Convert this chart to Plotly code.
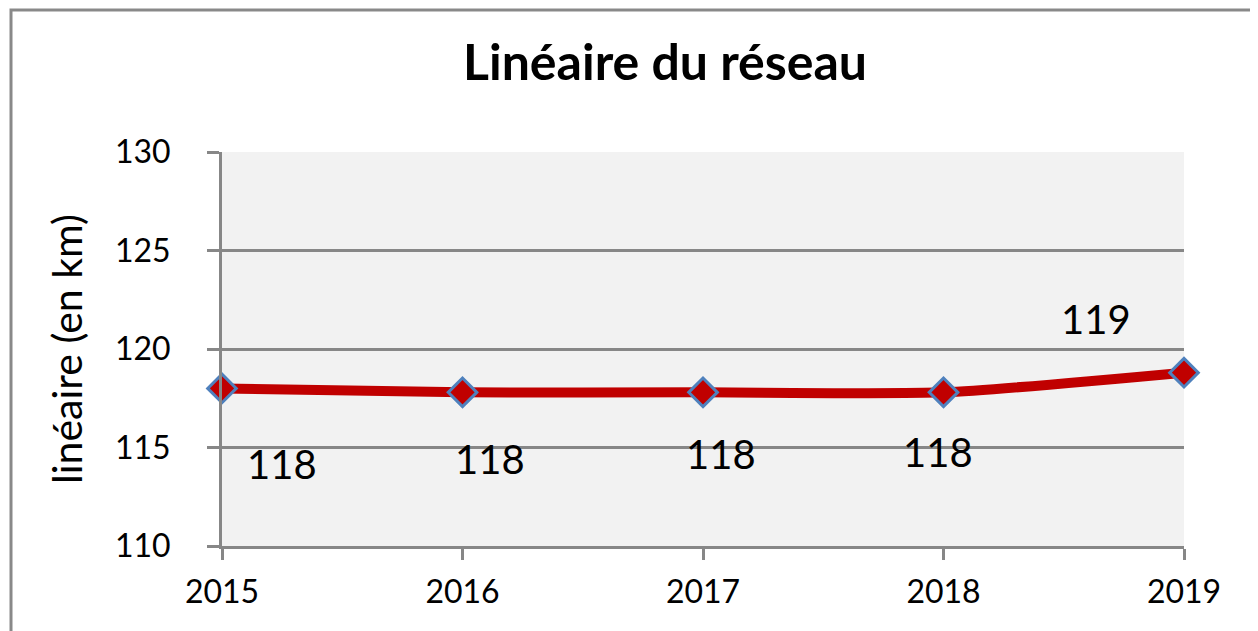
import plotly.graph_objects as go

years = [2015, 2016, 2017, 2018, 2019]
values = [118.0, 117.8, 117.8, 117.8, 118.8]
labels = [f"{round(v):d}" for v in values]
# label offsets in pixels (dx, dy up)
label_dx = [60, 27, 18, -6, -88]
label_dy = [-76, -67, -62, -60, 54]

FONT = "Lato"

fig = go.Figure()
fig.add_trace(go.Scatter(
    x=years, y=values, mode="lines+markers",
    line=dict(color="#C00000", width=10, shape="spline", smoothing=0.6),
    marker=dict(symbol="diamond", size=22, color="#C00000",
                line=dict(color="#4F81BD", width=3)),
    cliponaxis=False, showlegend=False,
))

for x, y, t, dx, dy in zip(years, values, labels, label_dx, label_dy):
    fig.add_annotation(x=x, y=y, text=t, showarrow=False, xshift=dx, yshift=dy,
                       font=dict(family=FONT, size=40, color="black"))

OFF = 8  # body margin of the html page
L, R, T, B = 222 - OFF, 74, 152 - OFF, 85
W, H = 1258 - OFF, 631 - OFF
pw, ph = W - L - R, H - T - B
fig.add_shape(type="rect", xref="paper", yref="paper",
              x0=(11 - OFF - L) / pw, x1=(1400 - L) / pw,
              y0=-1.0, y1=(H - B - (10 - OFF)) / ph,
              line=dict(color="#898989", width=3), fillcolor="rgba(0,0,0,0)", layer="below")

fig.update_layout(
    width=W, height=H,
    margin=dict(l=L, r=R, t=T, b=B),
    paper_bgcolor="white", plot_bgcolor="#F2F2F2",
    title=dict(text="<b>Linéaire du réseau</b>", x=(665 - OFF) / W, xanchor="center",
               y=1 - (62 - OFF) / H, yanchor="middle",
               font=dict(family=FONT, size=50, color="black")),
    font=dict(family=FONT, color="black"),
)
fig.update_xaxes(range=[2015, 2019], tickvals=years, ticktext=[str(y) for y in years],
                 showgrid=False, showline=True, linecolor="#878787", linewidth=3,
                 ticks="outside", ticklen=11, tickwidth=3, tickcolor="#878787",
                 tickfont=dict(family=FONT, size=32), ticklabelstandoff=5, zeroline=False)
fig.update_yaxes(range=[110, 130], tickvals=[110, 115, 120, 125, 130],
                 showgrid=True, gridcolor="#878787", gridwidth=3,
                 showline=True, linecolor="#878787", linewidth=3,
                 ticks="outside", ticklen=12, tickwidth=3, tickcolor="#878787",
                 tickfont=dict(family=FONT, size=32), ticklabelstandoff=30,
                 title=dict(text="linéaire (en km)", font=dict(family=FONT, size=41), standoff=20),
                 zeroline=False)

fig.write_html("out.html")
